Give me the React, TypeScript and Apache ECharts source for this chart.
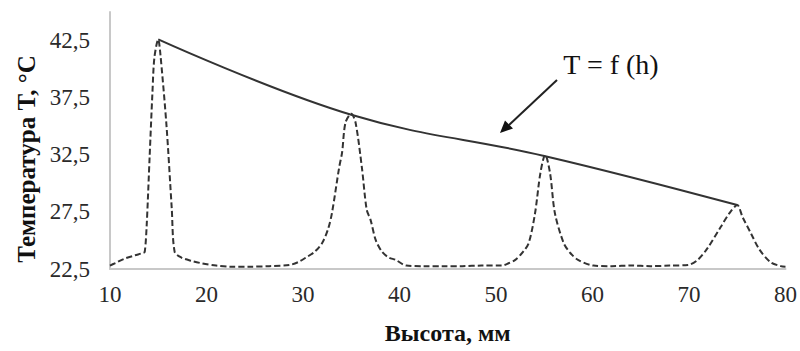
import React, { useEffect, useRef } from "react";
import * as echarts from "echarts";

// Solid line T = f(h): peak temperatures at each layer height
const solidX = [15, 35, 55, 75];
const solidY = [42.6, 36.0, 32.4, 28.1];

// Dashed temperature profile along the height
const dashX = [
  10, 10.5, 11.5, 12.6, 13.4, 13.6, 13.8, 14.1, 14.4, 14.6, 15.0, 15.2, 15.85, 16.4, 16.7, 17.4, 18.5, 19.5,
  21, 22.5, 24.4, 26.5, 28.6, 29.5, 30.3, 31.2, 32.0, 32.6, 33.0, 33.75, 34.05, 34.4, 35.0, 35.45, 36.1, 36.6,
  37.0, 37.55, 38.2, 38.9, 39.6, 40.7, 42.5, 44.5, 46.5, 48.5, 50.6, 51.3, 52.0, 52.8, 53.4, 54.05, 54.6, 55.1,
  55.6, 56.1, 57.0, 57.7, 58.5, 60.1, 62, 64, 66, 68, 69.9, 70.9, 71.9, 73.3, 74.2, 75.0, 75.55, 76.4, 77.3,
  78.45, 79.5, 80,
];
const dashY = [
  22.8, 23.0, 23.4, 23.7, 23.9, 24.0, 26.3, 32.2, 38.0, 41.0, 42.6, 41.5, 35.1, 27.8, 24.0, 23.5, 23.2, 23.0,
  22.8, 22.7, 22.7, 22.75, 22.85, 23.1, 23.5, 24.0, 24.8, 26.0, 27.4, 31.4, 32.7, 35.3, 36.1, 35.3, 31.4, 27.7,
  26.8, 25.0, 24.0, 23.5, 23.3, 22.8, 22.75, 22.75, 22.75, 22.8, 22.8, 23.0, 23.3, 24.0, 24.8, 27.4, 30.9, 32.5,
  30.9, 27.4, 24.8, 23.9, 23.3, 22.8, 22.75, 22.8, 22.75, 22.8, 22.85, 23.3, 24.3, 26.2, 27.4, 28.1, 27.05, 25.65,
  24.2, 23.1, 22.75, 22.7,
];

const xTicks = { min: 10, max: 80, interval: 10 };
const yTicks = { min: 22.5, max: 45, interval: 5 };

const FONT = "Liberation Serif";
const yName = "Температура T, °C";
const xName = "Высота, мм";
const curveLabel = "T = f (h)";

export default function App() {
  const ref = useRef<HTMLDivElement>(null);
  useEffect(() => {
    document.body.style.margin = "0";
    if (!ref.current) return;
    const chart = echarts.init(ref.current, undefined, { renderer: "svg" });
    const solid = solidX.map((x, i) => [x, solidY[i]]);
    const dashed = dashX.map((x, i) => [x, dashY[i]]);
    chart.setOption({
      animation: false,
      backgroundColor: "#ffffff",
      textStyle: { fontFamily: FONT },
      grid: { left: 110, right: 12, top: 12, bottom: 82, containLabel: false },
      xAxis: {
        type: "value",
        min: xTicks.min,
        max: xTicks.max,
        interval: xTicks.interval,
        name: xName,
        nameLocation: "middle",
        nameGap: 52,
        nameTextStyle: { fontFamily: FONT, fontSize: 24, fontWeight: "bold", color: "#111" },
        axisLine: { show: true, lineStyle: { color: "#c8c8c8", width: 2 } },
        axisTick: { show: false },
        splitLine: { show: false },
        axisLabel: { fontFamily: FONT, fontSize: 23, color: "#2a2a2a", margin: 14 },
      },
      yAxis: {
        type: "value",
        min: yTicks.min,
        max: yTicks.max,
        interval: yTicks.interval,
        axisLine: { show: true, lineStyle: { color: "#c8c8c8", width: 2 } },
        axisTick: { show: false },
        splitLine: { show: false },
        axisLabel: {
          fontFamily: FONT,
          fontSize: 23,
          color: "#2a2a2a",
          margin: 20,
          showMaxLabel: false,
          formatter: (v: number) => v.toFixed(1).replace(".", ","),
        },
      },
      series: [
        {
          type: "line",
          data: dashed,
          showSymbol: false,
          smooth: 0.3,
          lineStyle: { color: "#333", width: 2, type: [6, 3] },
          z: 2,
        },
        {
          type: "line",
          data: solid,
          showSymbol: false,
          smooth: 0.4,
          lineStyle: { color: "#333", width: 2, type: "solid" },
          z: 3,
        },
      ],
      graphic: [
        {
          type: "text",
          x: 26,
          y: 159,
          rotation: Math.PI / 2,
          style: {
            text: yName,
            font: "bold 25px 'Liberation Serif'",
            fill: "#111",
            align: "center",
            verticalAlign: "middle",
          },
        },
        {
          type: "text",
          x: 611,
          y: 64,
          style: {
            text: curveLabel,
            font: "28px 'Liberation Serif'",
            fill: "#111",
            align: "center",
            verticalAlign: "middle",
          },
        },
        {
          type: "line",
          shape: { x1: 557, y1: 80, x2: 509, y2: 125 },
          style: { stroke: "#222", lineWidth: 2 },
        },
        {
          type: "polygon",
          shape: { points: [[500, 133], [513, 128.5], [505, 120.5]] },
          style: { fill: "#111" },
        },
      ],
    });
    return () => chart.dispose();
  }, []);
  return <div ref={ref} style={{ width: 800, height: 351 }} />;
}
